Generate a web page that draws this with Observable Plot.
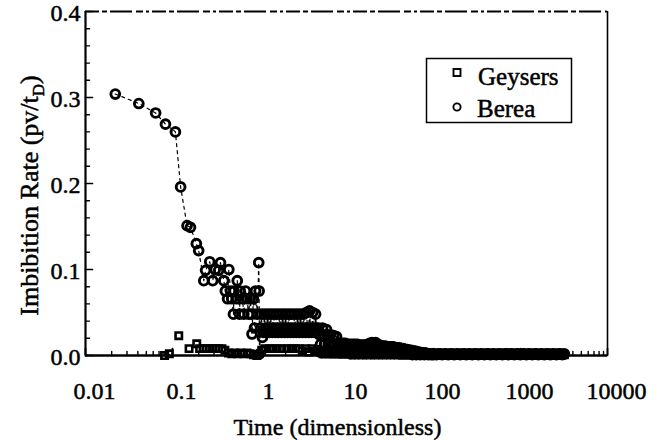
<!DOCTYPE html>
<html>
<head>
<meta charset="utf-8">
<script src="https://cdn.jsdelivr.net/npm/d3@7"></script>
<script src="https://cdn.jsdelivr.net/npm/@observablehq/plot@0.6"></script>
<style>
  body { margin: 0; background: #fff; }
  #wrap { position: relative; width: 663px; height: 440px; background: #fff; }
  #legend { position: absolute; left: 0; top: 0; pointer-events: none; }
</style>
</head>
<body>
<div id="wrap"></div>
<script>
// ---------- data ----------
const seriesNames = ["Geysers", "Berea"];

// Berea, early times (steep decline and scattered cluster)
const bereaEarlyTime = [
  0.022,0.041,0.064,0.083,0.108,0.124,0.147,0.161,0.188,0.200,
  0.229,0.240,0.268,0.290,0.310,0.340,0.356,0.389,0.405,0.430,
  0.444,0.464,0.480,0.502,0.510,0.544,0.555,0.589,0.600,0.638,
  0.660,0.690,0.720,0.747,0.780,0.809,0.820,0.850,0.876,0.900,
  0.948,0.980,0.990,1.000
];
const bereaEarlyRate = [
  0.304,0.293,0.282,0.269,0.260,0.196,0.151,0.149,0.130,0.122,
  0.087,0.099,0.109,0.087,0.100,0.099,0.108,0.087,0.075,0.066,
  0.100,0.075,0.066,0.048,0.075,0.066,0.087,0.048,0.075,0.066,
  0.048,0.075,0.066,0.048,0.066,0.048,0.025,0.066,0.032,0.075,
  0.048,0.108,0.075,0.002
];
// Berea, 1 to 4.6 (three dense bands)
const bereaMidTime = [
  1.03,1.05,1.08,1.11,1.14,1.17,1.20,1.24,1.27,1.30,
  1.34,1.37,1.41,1.45,1.49,1.53,1.57,1.61,1.65,1.70,
  1.74,1.79,1.84,1.89,1.94,1.99,2.04,2.10,2.16,2.21,
  2.27,2.33,2.40,2.46,2.53,2.59,2.66,2.74,2.81,2.88,
  2.96,3.04,3.12,3.21,3.29,3.38,3.47,3.56,3.66,3.76,
  3.86,3.96,4.07,4.18,4.29,4.41,4.52,4.65
];
const bereaMidRate = [
  0.032,0.048,0.021,0.027,0.048,0.032,0.027,0.048,0.032,0.027,
  0.048,0.032,0.027,0.048,0.032,0.027,0.048,0.032,0.027,0.048,
  0.032,0.027,0.048,0.032,0.027,0.048,0.032,0.027,0.048,0.032,
  0.027,0.048,0.032,0.027,0.048,0.032,0.027,0.048,0.032,0.027,
  0.048,0.032,0.027,0.048,0.032,0.027,0.050,0.032,0.027,0.052,
  0.032,0.027,0.050,0.032,0.027,0.048,0.032,0.027
];
// Berea, 4.8 to 100 (tapering band)
const bereaLateTime = [
  4.77,4.90,5.03,5.16,5.30,5.45,5.59,5.74,5.90,6.05,
  6.22,6.38,6.55,6.73,6.91,7.10,7.29,7.48,7.68,7.89,
  8.10,8.32,8.54,8.77,9.01,9.25,9.50,9.75,10.0,10.3,
  10.6,10.9,11.2,11.5,11.8,12.1,12.4,12.7,13.0,13.4,
  13.8,14.2,14.6,15.0,15.4,15.8,16.2,16.6,17.0,17.5,
  18.0,18.5,19.0,19.5,20.0,20.5,21.0,21.6,22.2,22.8,
  23.4,24.0,24.6,25.2,25.9,26.6,27.3,28.0,28.8,29.6,
  30.4,31.2,32.0,32.9,33.8,34.7,35.6,36.6,37.6,38.6,
  39.6,40.6,41.7,42.8,43.9,45.1,46.3,47.5,48.8,50.1,
  51.4,52.8,54.2,55.7,57.2,58.7,60.3,61.9,63.5,65.2,
  67.0,68.8,70.6,72.5,74.5,76.5,78.5,80.6,82.8,85.0,
  87.3,89.6,92.0,94.5,97.0,99.6
];
const bereaLateRate = [
  0.032,0.024,0.013,0.003,0.032,0.024,0.013,0.003,0.030,0.024,
  0.013,0.003,0.024,0.013,0.003,0.023,0.013,0.003,0.022,0.013,
  0.003,0.014,0.003,0.014,0.003,0.014,0.003,0.014,0.003,0.013,
  0.003,0.013,0.002,0.013,0.003,0.013,0.002,0.013,0.003,0.013,
  0.002,0.012,0.003,0.012,0.002,0.012,0.003,0.012,0.002,0.013,
  0.003,0.014,0.002,0.015,0.003,0.014,0.002,0.015,0.003,0.013,
  0.002,0.012,0.003,0.011,0.002,0.011,0.003,0.011,0.002,0.010,
  0.003,0.010,0.002,0.010,0.003,0.010,0.002,0.009,0.003,0.009,
  0.002,0.009,0.002,0.008,0.002,0.008,0.002,0.007,0.002,0.007,
  0.002,0.006,0.002,0.006,0.001,0.005,0.002,0.005,0.001,0.004,
  0.002,0.004,0.001,0.003,0.002,0.003,0.001,0.003,0.002,0.002,
  0.001,0.002,0.002,0.001,0.002,0.001
];
// Berea, 100 to 3200 (flat tail)
const bereaTailTime = [
  102,108,113,120,126,133,140,148,156,164,
  173,183,193,203,214,226,238,251,265,279,
  294,310,327,345,364,384,405,427,450,474,
  500,527,556,586,618,652,687,725,764,805,
  849,895,944,995,1049,1106,1167,1230,1297,1367,
  1442,1520,1603,1690,1782,1879,1981,2089,2202,2322,
  2448,2582,2722,2870,3026,3191
];
const bereaTailRate = [
  0.002,0.001,0.002,0.002,0.001,0.002,0.002,0.001,0.002,0.002,
  0.001,0.002,0.002,0.001,0.002,0.002,0.001,0.002,0.002,0.001,
  0.002,0.002,0.001,0.002,0.002,0.001,0.002,0.002,0.001,0.002,
  0.002,0.001,0.002,0.002,0.001,0.002,0.002,0.001,0.002,0.002,
  0.001,0.002,0.002,0.001,0.002,0.002,0.001,0.002,0.002,0.001,
  0.002,0.002,0.001,0.002,0.002,0.001,0.002,0.002,0.001,0.002,
  0.002,0.001,0.002,0.002,0.001,0.002
];

// Geysers, early times
const geysersEarlyTime = [
  0.081,0.092,0.118,0.155,0.190,0.205,0.225,0.245,0.265,0.290,
  0.315,0.340,0.370,0.400,0.440,0.480,0.520,0.560,0.610,0.660,
  0.720,0.780,0.850,0.930,1.06,1.15,1.30,1.43,1.60,1.80,
  2.05,2.30,2.60,2.85
];
const geysersEarlyRate = [
  0.000,0.002,0.023,0.008,0.0136,0.008,0.008,0.008,0.008,0.008,
  0.008,0.008,0.008,0.006,0.003,0.002,0.003,0.002,0.003,0.002,
  0.003,0.002,0.001,0.000,0.006,0.008,0.008,0.008,0.008,0.008,
  0.008,0.008,0.008,0.008
];
// Geysers, later times
const geysersLateTime = [
  3.1,3.4,3.7,4.0,4.3,4.65,5.0,5.45,5.9,6.4,
  6.9,7.5,8.1,8.8,9.5,10.3,11.2,12.1,13.1,14.2,
  15.4,16.7,18.1,19.6,21.2,23.0,24.9,27.0,29.2,31.7,
  34.3,37.2,40.3,43.6,47.2,51.2,55.4,60.0,65.0,70.4,
  76.3,82.6,89.5,96.9,105,114,123,133,144,156,
  169,183,199,215,233,252,273,296,321,347,
  376,407,441,478,518,561,607,658,712,772,
  836,905,980,1062,1150,1246,1349,1461,1583,1714,
  1857,2011,2178,2359,2555,2767,2997,3190
];
const geysersLateRate = [
  0.005,0.008,0.004,0.008,0.005,0.007,0.004,0.006,0.003,0.006,
  0.004,0.005,0.003,0.005,0.003,0.004,0.003,0.004,0.002,0.004,
  0.003,0.004,0.002,0.004,0.003,0.003,0.002,0.003,0.002,0.003,
  0.002,0.003,0.002,0.003,0.002,0.002,0.003,0.002,0.002,0.002,
  0.001,0.002,0.002,0.001,0.002,0.001,0.001,0.002,0.001,0.001,
  0.001,0.001,0.001,0.001,0.001,0.001,0.001,0.001,0.001,0.001,
  0.001,0.001,0.001,0.001,0.001,0.001,0.001,0.001,0.001,0.001,
  0.001,0.001,0.001,0.001,0.001,0.001,0.001,0.001,0.001,0.001,
  0.001,0.001,0.001,0.001,0.001,0.001,0.001,0.001
];

const xDomain = [0.01, 10000];
const yDomain = [0, 0.4];
const xTickValues = [0.01, 0.1, 1, 10, 100, 1000, 10000];
const xTickLabels = ["0.01", "0.1", "1", "10", "100", "1000", "10000"];
const xMinorMultipliers = [2, 3, 4, 5, 6, 7, 8, 9];
const yTickValues = [0, 0.1, 0.2, 0.3, 0.4];
const yTickLabels = ["0.0", "0.1", "0.2", "0.3", "0.4"];
const yMinorTicks = [0.02,0.04,0.06,0.08,0.12,0.14,0.16,0.18,0.22,0.24,0.26,0.28,0.32,0.34,0.36,0.38];
const xTitle = "Time (dimensionless)";
const yTitle = "Imbibition Rate (pv/tD)";

// ---------- tables ----------
function zipRows(times, rates) {
  const n = Math.min(times.length, rates.length);
  return times.slice(0, n).map((t, i) => ({time: t, rate: rates[i]}));
}
const berea = [
  ...zipRows(bereaEarlyTime, bereaEarlyRate),
  ...zipRows(bereaMidTime, bereaMidRate),
  ...zipRows(bereaLateTime, bereaLateRate),
  ...zipRows(bereaTailTime, bereaTailRate)
];
const geysers = [
  ...zipRows(geysersEarlyTime, geysersEarlyRate),
  ...zipRows(geysersLateTime, geysersLateRate)
];
const xMinorTicks = xTickValues.slice(0, -1).flatMap(d => xMinorMultipliers.map(m => d * m));

const ink = "#000";
const serif = "'Liberation Serif', 'Times New Roman', Times, serif";
const tickShape = {draw(context, l) { context.moveTo(0, 0); context.lineTo(0, -l); }};
const textInk = {fill: ink, stroke: ink, strokeWidth: 0.5, fontFamily: serif};

const svg = Plot.plot({
  width: 663,
  height: 440,
  marginLeft: 85,
  marginRight: 56,
  marginTop: 11,
  marginBottom: 85,
  x: {type: "log", domain: xDomain, axis: null},
  y: {domain: yDomain, axis: null},
  style: {fontFamily: serif, fontSize: "24px", color: ink, background: "#fff", overflow: "visible"},
  marks: [
    // frame
    Plot.ruleY([yDomain[1]], {stroke: ink, strokeWidth: 2.2, strokeDasharray: "14,3,5,3,22,4,7,3,3,3"}),
    Plot.ruleX([xDomain[1]], {stroke: ink, strokeWidth: 1.6}),
    Plot.ruleX([xDomain[0]], {stroke: ink, strokeWidth: 2.2}),
    Plot.ruleY([yDomain[0]], {stroke: ink, strokeWidth: 2.4}),
    // inward ticks
    Plot.vector(xTickValues, {x: d => d, frameAnchor: "bottom", length: 7, rotate: 0, anchor: "start", shape: tickShape, stroke: ink, strokeWidth: 1.7}),
    Plot.vector(xMinorTicks, {x: d => d, frameAnchor: "bottom", length: 4, rotate: 0, anchor: "start", shape: tickShape, stroke: ink, strokeWidth: 1.4}),
    Plot.vector(yTickValues, {y: d => d, frameAnchor: "left", length: 7, rotate: 90, anchor: "start", shape: tickShape, stroke: ink, strokeWidth: 1.7}),
    Plot.vector(yMinorTicks, {y: d => d, frameAnchor: "left", length: 4, rotate: 90, anchor: "start", shape: tickShape, stroke: ink, strokeWidth: 1.4}),
    // tick labels
    Plot.text(xTickValues, {x: d => d, text: (d, i) => xTickLabels[i], frameAnchor: "bottom",
      textAnchor: "middle", lineAnchor: "top", dy: 26, dx: 9, fontSize: 24, ...textInk}),
    Plot.text(yTickValues, {y: d => d, text: (d, i) => yTickLabels[i], frameAnchor: "left",
      textAnchor: "end", lineAnchor: "middle", dx: -5, dy: 2, fontSize: 24, ...textInk}),
    // axis titles
    Plot.text([xTitle], {text: d => d, frameAnchor: "bottom", textAnchor: "middle", lineAnchor: "middle",
      dy: 72, dx: -9, fontSize: 24, ...textInk}),
    Plot.text([yTitle], {text: d => d, frameAnchor: "left", textAnchor: "middle", lineAnchor: "middle",
      rotate: -90, dx: -56, dy: 12, fontSize: 26, ...textInk}),
    // data
    Plot.line(berea, {x: "time", y: "rate", stroke: ink, strokeWidth: 1.2, strokeDasharray: "3,4"}),
    Plot.dot(geysers, {x: "time", y: "rate", symbol: "square", r: 3.6, stroke: ink, strokeWidth: 2.6, fill: "none"}),
    Plot.dot(berea, {x: "time", y: "rate", symbol: "circle", r: 4.4, stroke: ink, strokeWidth: 2.9, fill: "none"})
  ]
});

// subscript D in the y title
d3.select(svg).selectAll("text").filter(function() { return this.textContent === yTitle; })
  .each(function() {
    const t = d3.select(this);
    t.attr("text-anchor", "middle");
    t.text(null);
    t.append("tspan").text("Imbibition Rate (pv/t");
    t.append("tspan").attr("font-size", "17px").attr("dy", 6).text("D");
    t.append("tspan").attr("dy", -6).text(")");
  });

const wrap = document.getElementById("wrap");
wrap.appendChild(svg);

// legend (boxed, inside the plot area)
const leg = d3.select(wrap).append("svg")
  .attr("id", "legend").attr("width", 663).attr("height", 440)
  .style("font-family", serif);
leg.append("rect").attr("x", 426.5).attr("y", 58.5).attr("width", 145).attr("height", 64)
  .attr("fill", "#fff").attr("stroke", ink).attr("stroke-width", 1.5);
leg.append("rect").attr("x", 453.5).attr("y", 69).attr("width", 7).attr("height", 7)
  .attr("fill", "none").attr("stroke", ink).attr("stroke-width", 1.9);
leg.append("circle").attr("cx", 457).attr("cy", 107).attr("r", 3.6)
  .attr("fill", "none").attr("stroke", ink).attr("stroke-width", 1.9);
leg.append("text").attr("x", 478).attr("y", 85).attr("font-size", 25)
  .attr("fill", ink).attr("stroke", ink).attr("stroke-width", 0.5).text(seriesNames[0]);
leg.append("text").attr("x", 477).attr("y", 117).attr("font-size", 25)
  .attr("fill", ink).attr("stroke", ink).attr("stroke-width", 0.5).text(seriesNames[1]);
</script>
</body>
</html>
